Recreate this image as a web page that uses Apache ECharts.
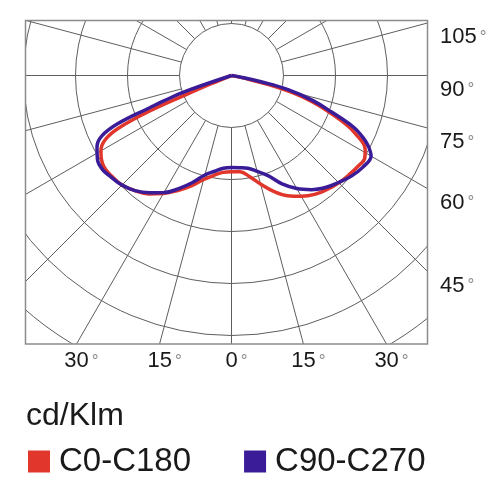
<!DOCTYPE html>
<html>
<head>
<meta charset="utf-8">
<script src="https://cdn.jsdelivr.net/npm/echarts@6/dist/echarts.min.js"></script>
<style>
html, body { margin: 0; padding: 0; background: #fff; }
#chart { width: 500px; height: 490px; }
</style>
</head>
<body>
<div id="chart"></div>
<script>
// angles in degrees from nadir (negative = left half), intensity in cd/klm
var c0Angles = [-90, -69, -68, -67.2, -66.6, -65, -63, -60, -57, -54, -50, -45, -40, -35, -30, -25, -20, -15, -10, -5,
  0, 5, 10, 15, 20, 25, 30, 35, 40, 45, 50, 55, 58, 61, 65, 67, 70, 72, 74, 76, 78, 80, 90];
var c0Values = [0, 0, 42, 96, 167, 240, 273, 290, 298, 302, 301, 298, 289, 278, 262, 244, 226, 207, 195, 187,
  185, 186, 197, 216, 237, 255, 268, 279, 286, 292, 296, 300, 302, 294, 262, 238, 192, 162, 127, 77, 29, 0, 0];

var c90Angles = [-90, -72.5, -71, -69.5, -68.5, -67, -65, -62, -58, -54, -50, -45, -40, -35, -30, -25, -20, -15, -10, -5,
  0, 5, 10, 15, 20, 25, 30, 35, 40, 45, 50, 55, 60, 63, 65, 67, 70, 73, 76, 78, 80, 82, 90];
var c90Values = [0, 0, 87, 138, 169, 238, 275, 293, 304, 307, 303, 298, 289, 275, 260, 240, 219, 198, 187, 179,
  177, 178, 181, 191, 205, 230, 251, 268, 281, 291, 301, 308, 310, 294, 277, 256, 204, 162, 112, 58, 19, 0, 0];

var seriesNames = ['C0-C180', 'C90-C270'];
var seriesColors = ['#e0362c', '#3b1c98'];
var unitLabel = 'cd/Klm';
var sideTicks = [105, 90, 75, 60, 45];
var bottomTicks = [-30, -15, 0, 15, 30];

var font = '"Liberation Sans", Arial, sans-serif';
var cx = 231.5, cy = 75.5;
var box = { left: 25.5, top: 20.5, right: 427.5, bottom: 344 };
var gridColor = '#5e5e5e';

function pairs(angles, values) {
  return angles.map(function (a, i) { return [values[i], a]; });
}
function rad(d) { return d * Math.PI / 180; }

// min (-180) sits at the top, so 0 points straight down and +90 to the right
function angleAxis(idx, showSplit) {
  return {
    polarIndex: idx, type: 'value', min: -180, max: 180, interval: 15,
    startAngle: 90, clockwise: false,
    axisLine: { show: false }, axisTick: { show: false }, axisLabel: { show: false },
    splitLine: { show: showSplit, lineStyle: { color: gridColor, width: 1 } }
  };
}

var labelRich = {
  p: { width: 10 },
  n: { fontSize: 22, fill: '#1a1a1a', fontFamily: font },
  d: { fontSize: 17, fill: '#8a8a8a', fontFamily: font, padding: [0, 0, 0, 3] }
};

var graphics = [
  // masks outside the frame
  { type: 'rect', z: 3, shape: { x: 0, y: 0, width: 500, height: box.top }, style: { fill: '#fff' } },
  { type: 'rect', z: 3, shape: { x: 0, y: 0, width: box.left, height: 490 }, style: { fill: '#fff' } },
  { type: 'rect', z: 3, shape: { x: box.right, y: 0, width: 500 - box.right, height: 490 }, style: { fill: '#fff' } },
  { type: 'rect', z: 3, shape: { x: 0, y: box.bottom, width: 500, height: 490 - box.bottom }, style: { fill: '#fff' } },
  { type: 'rect', z: 6, shape: { x: box.left, y: box.top, width: box.right - box.left, height: box.bottom - box.top },
    style: { fill: 'none', stroke: '#8c8c8c', lineWidth: 1.5 } },
  { type: 'text', z: 10, x: 26, y: 416,
    style: { text: unitLabel, fontSize: 32, fontFamily: font, fill: '#1a1a1a', verticalAlign: 'middle' } }
];

sideTicks.forEach(function (a) {
  var y = cy + (box.right - cx) * Math.cos(rad(a)) / Math.sin(rad(a)) + 14;
  graphics.push({ type: 'text', z: 10, x: 440, y: y,
    style: { text: '{n|' + a + '}{d|°}', rich: labelRich, align: 'left', verticalAlign: 'middle' } });
});
bottomTicks.forEach(function (a) {
  var x = cx + (box.bottom - cy) * Math.tan(rad(a));
  graphics.push({ type: 'text', z: 10, x: x, y: 361,
    style: { text: '{p|}{n|' + Math.abs(a) + '}{d|°}', rich: labelRich, align: 'center', verticalAlign: 'middle' } });
});

var chart = echarts.init(document.getElementById('chart'));
chart.setOption({
  animation: false,
  backgroundColor: '#fff',
  polar: [
    { center: [cx, cy], radius: [0, 364] },
    { center: [cx, cy], radius: [52, 364] }
  ],
  angleAxis: [angleAxis(0, false), angleAxis(1, true)],
  radiusAxis: [
    { polarIndex: 0, type: 'value', min: 0, max: 700, interval: 100,
      axisLine: { show: false }, axisTick: { show: false }, axisLabel: { show: false },
      splitLine: { show: true, lineStyle: { color: gridColor, width: 1 } } },
    { polarIndex: 1, type: 'value', min: 0, max: 1, show: false }
  ],
  legend: {
    data: seriesNames, left: 28, top: 445, padding: 0, z: 20,
    itemWidth: 22, itemHeight: 22, itemGap: 53, icon: 'rect',
    textStyle: { fontSize: 33, color: '#1a1a1a', fontFamily: font, padding: [0, 0, 0, 4] }
  },
  series: [
    { name: seriesNames[0], type: 'line', coordinateSystem: 'polar', polarIndex: 0,
      data: pairs(c0Angles, c0Values), showSymbol: false, smooth: 0.4,
      lineStyle: { width: 3.5, color: seriesColors[0] }, itemStyle: { color: seriesColors[0] } },
    { name: seriesNames[1], type: 'line', coordinateSystem: 'polar', polarIndex: 0,
      data: pairs(c90Angles, c90Values), showSymbol: false, smooth: 0.4,
      lineStyle: { width: 3.5, color: seriesColors[1] }, itemStyle: { color: seriesColors[1] } }
  ],
  graphic: { elements: graphics }
});
</script>
</body>
</html>
